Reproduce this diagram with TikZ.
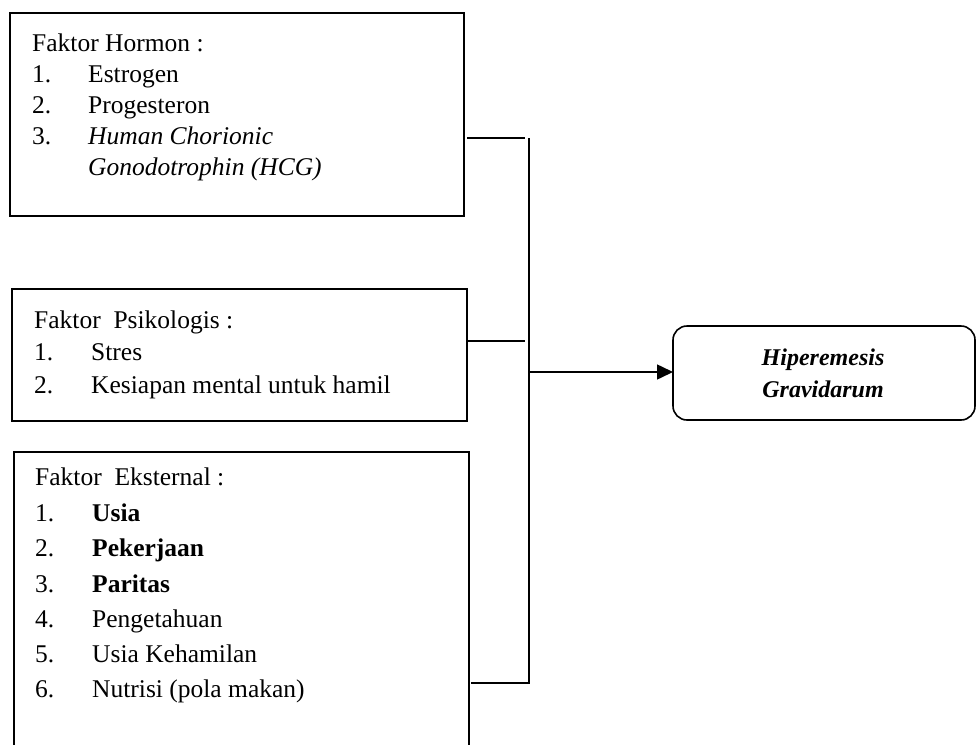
\documentclass[tikz,border=0pt]{standalone}
\usepackage{fontspec}
\setmainfont{Liberation Serif}
\usetikzlibrary{arrows.meta}
\begin{document}
\begin{tikzpicture}[x=1pt,y=-1pt,
  box/.style={draw, line width=1.6pt, inner sep=0pt, outer sep=0pt, anchor=north west},
  txt/.style={anchor=base west, inner sep=0pt, font=\fontsize{25.5}{30}\selectfont},
  res/.style={anchor=base, inner sep=0pt, font=\fontsize{24}{30}\selectfont\bfseries\itshape},
  conn/.style={line width=1.5pt}]
\useasboundingbox (0,0) rectangle (976,744);
\begin{scope}
\clip (0,0) rectangle (976,744);
% boxes
\node[box, minimum width=454pt, minimum height=203pt] (b1) at (10,13) {};
\node[box, minimum width=455pt, minimum height=132pt] (b2) at (12,289) {};
\node[box, minimum width=455pt, minimum height=330pt] (b3) at (14,452) {};
\node[box, rounded corners=14pt, minimum width=302pt, minimum height=94pt] (b4) at (673,326) {};
\end{scope}
% box 1 text
\node[txt] (h0) at (32,51) {Faktor Hormon :};
\node[txt] (h1n) at (32,82) {1.};
\node[txt] (h1) at (88,82) {Estrogen};
\node[txt] (h2n) at (32,113) {2.};
\node[txt] (h2) at (88,113) {Progesteron};
\node[txt] (h3n) at (32,144) {3.};
\node[txt] (h3) at (88,144) {\itshape Human Chorionic};
\node[txt] (h3b) at (88,175) {\itshape Gonodotrophin (HCG)};
% box 2 text
\node[txt] (p0) at (34,328) {Faktor\ \ Psikologis :};
\node[txt] (p1n) at (34,360) {1.};
\node[txt] (p1) at (91,360) {Stres};
\node[txt] (p2n) at (34,393) {2.};
\node[txt] (p2) at (91,393) {Kesiapan mental untuk hamil};
% box 3 text
\node[txt] (e0) at (35,485) {Faktor\ \ Eksternal :};
\node[txt] (e1n) at (35,521) {1.};
\node[txt] (e1) at (92,521) {\bfseries Usia};
\node[txt] (e2n) at (35,556) {2.};
\node[txt] (e2) at (92,556) {\bfseries Pekerjaan};
\node[txt] (e3n) at (35,592) {3.};
\node[txt] (e3) at (92,592) {\bfseries Paritas};
\node[txt] (e4n) at (35,627) {4.};
\node[txt] (e4) at (92,627) {Pengetahuan};
\node[txt] (e5n) at (35,662) {5.};
\node[txt] (e5) at (92,662) {Usia Kehamilan};
\node[txt] (e6n) at (35,697) {6.};
\node[txt] (e6) at (92,697) {Nutrisi (pola makan)};
% result text
\node[res] (r1) at (823,365) {Hiperemesis};
\node[res] (r2) at (823,397) {Gravidarum};
% connectors
\coordinate (j1) at (525,138);
\coordinate (j2) at (525,341);
\coordinate (vt) at (529,138);
\coordinate (vb) at (529,683);
\coordinate (va) at (529,372);
\draw[conn, shorten <=3pt] (b1.east |- j1) -- (j1);
\draw[conn, shorten <=1pt] (b2.east |- j2) -- (j2);
\draw[conn] (vt) -- (vb) -- ([xshift=2pt]b3.east |- vb);
\draw[conn, -{Triangle[length=16pt,width=15pt]}] (va) -- (b4.west |- va);
\end{tikzpicture}
\end{document}
